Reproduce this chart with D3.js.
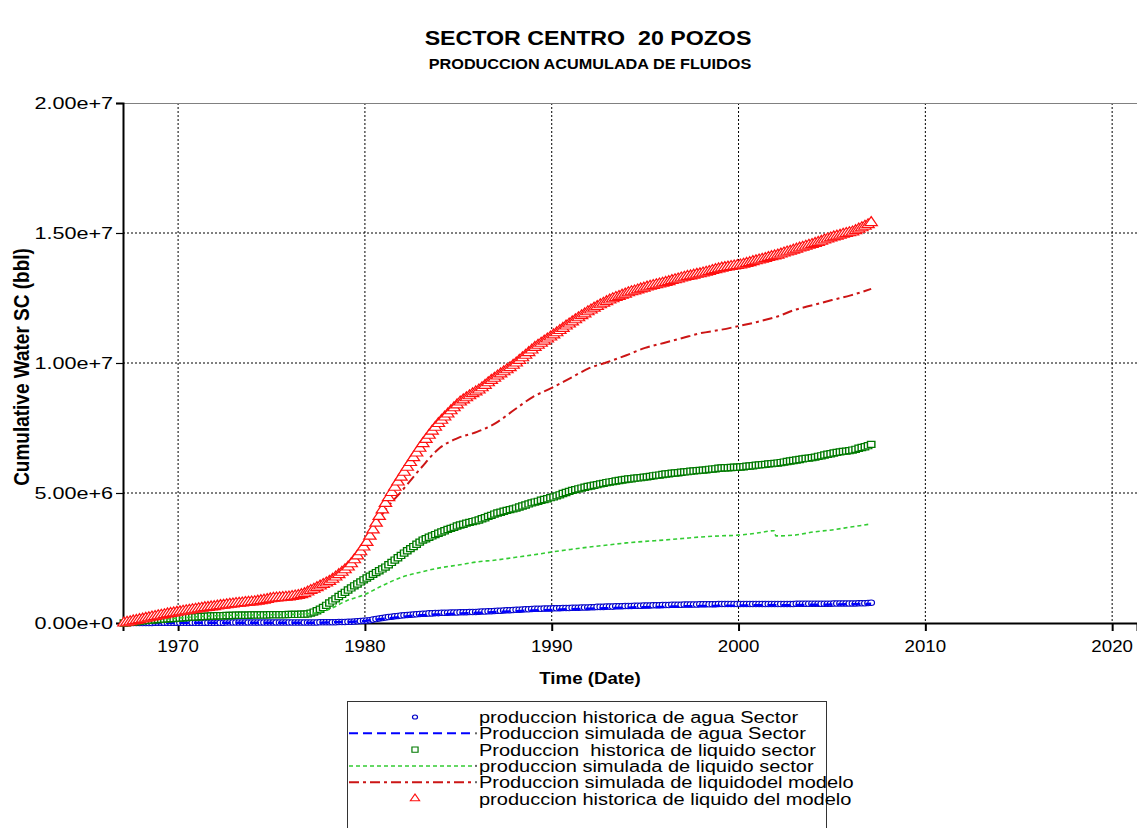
<!DOCTYPE html>
<html><head><meta charset="utf-8">
<script src="https://cdn.jsdelivr.net/npm/d3@7"></script>
<style>html,body{margin:0;padding:0;background:#fff;}svg{display:block;}text{white-space:pre;}</style>
</head><body>
<svg id="chart" width="1137" height="828"></svg>
<script>
// ---------------- DATA (values in millions of bbl) ----------------
const titleText = "SECTOR CENTRO  20 POZOS";
const subtitleText = "PRODUCCION ACUMULADA DE FLUIDOS";
const yTitle = "Cumulative Water SC (bbl)";
const xTitle = "Time (Date)";
const xTickYears = [1970, 1980, 1990, 2000, 2010, 2020];
const yTickValues = [0, 5, 10, 15, 20];

// historic series: samples every 2 months starting 1967.1 (one row per year)
const histStart = 1967.1, histStep = 1 / 6;
const histAgua = [
 0,0,0,0,0,0,
 0,0,0,0,.01,.01,
 .01,.01,.01,.01,.01,.01,
 .01,.01,.01,.01,.01,.01,
 .01,.01,.01,.01,.01,.01,
 .01,.01,.01,.02,.02,.02,
 .02,.02,.02,.02,.02,.02,
 .02,.02,.02,.02,.02,.02,
 .02,.02,.02,.02,.02,.02,
 .02,.02,.02,.02,.02,.02,
 .02,.02,.02,.03,.03,.03,
 .03,.03,.03,.04,.04,.04,
 .05,.05,.06,.07,.08,.09,
 .10,.11,.13,.15,.17,.19,
 .21,.23,.24,.26,.27,.29,
 .30,.31,.32,.33,.34,.35,
 .36,.36,.37,.37,.38,.38,
 .39,.39,.39,.40,.40,.40,
 .41,.41,.41,.42,.42,.42,
 .43,.44,.44,.45,.45,.46,
 .47,.47,.48,.49,.49,.50,
 .51,.51,.52,.53,.53,.54,
 .55,.55,.55,.56,.56,.56,
 .57,.57,.57,.58,.58,.58,
 .59,.59,.59,.60,.60,.60,
 .61,.61,.62,.62,.62,.63,
 .63,.63,.64,.64,.64,.65,
 .65,.65,.66,.66,.66,.67,
 .67,.67,.68,.68,.68,.69,
 .69,.69,.70,.70,.70,.70,
 .71,.71,.71,.71,.71,.72,
 .72,.72,.72,.72,.72,.73,
 .73,.73,.73,.73,.73,.73,
 .73,.73,.73,.73,.73,.73,
 .73,.73,.73,.73,.73,.73,
 .73,.73,.73,.73,.73,.73,
 .74,.74,.74,.74,.74,.74,
 .74,.74,.74,.74,.74,.74,
 .75,.75,.75,.75,.75,.75,
 .75,.75,.76,.76,.76,.77,
 .78];
const histLiqSector = [
 0.00,0.01,0.03,0.04,0.05,0.07,
 0.08,0.09,0.10,0.11,0.12,0.13,
 0.14,0.15,0.16,0.17,0.17,0.18,
 0.19,0.20,0.21,0.22,0.23,0.23,
 0.24,0.25,0.25,0.26,0.27,0.27,
 0.28,0.28,0.28,0.29,0.29,0.29,
 0.30,0.30,0.30,0.30,0.30,0.31,
 0.31,0.31,0.31,0.31,0.31,0.32,
 0.32,0.32,0.32,0.32,0.32,0.33,
 0.33,0.33,0.33,0.34,0.34,0.35,
 0.38,0.42,0.47,0.53,0.60,0.68,
 0.77,0.85,0.93,1.02,1.10,1.18,
 1.27,1.35,1.43,1.50,1.58,1.66,
 1.73,1.80,1.87,1.94,2.01,2.08,
 2.15,2.24,2.33,2.42,2.51,2.60,
 2.69,2.78,2.86,2.94,3.03,3.11,
 3.19,3.24,3.30,3.35,3.40,3.45,
 3.50,3.55,3.60,3.64,3.68,3.73,
 3.77,3.80,3.84,3.87,3.90,3.93,
 3.96,4.01,4.05,4.10,4.14,4.19,
 4.23,4.26,4.30,4.33,4.36,4.39,
 4.42,4.46,4.50,4.54,4.58,4.62,
 4.65,4.68,4.72,4.75,4.78,4.82,
 4.85,4.89,4.93,4.98,5.02,5.06,
 5.10,5.13,5.16,5.19,5.22,5.25,
 5.27,5.30,5.32,5.35,5.37,5.40,
 5.42,5.44,5.46,5.48,5.50,5.52,
 5.54,5.55,5.57,5.58,5.59,5.61,
 5.62,5.64,5.66,5.68,5.69,5.71,
 5.73,5.74,5.76,5.77,5.78,5.80,
 5.81,5.82,5.84,5.85,5.86,5.87,
 5.88,5.89,5.91,5.92,5.93,5.95,
 5.96,5.97,5.97,5.98,5.99,5.99,
 6.00,6.01,6.03,6.04,6.05,6.07,
 6.08,6.09,6.10,6.12,6.13,6.14,
 6.15,6.17,6.19,6.21,6.23,6.25,
 6.27,6.29,6.31,6.33,6.34,6.36,
 6.38,6.41,6.43,6.46,6.49,6.51,
 6.54,6.56,6.58,6.60,6.61,6.63,
 6.65,6.68,6.72,6.75,6.78,6.82,
 6.87];
const histLiqModelo = [
 0.00,0.03,0.05,0.08,0.10,0.13,
 0.15,0.18,0.20,0.23,0.25,0.28,
 0.30,0.32,0.35,0.37,0.39,0.41,
 0.43,0.45,0.47,0.49,0.51,0.53,
 0.55,0.57,0.59,0.60,0.62,0.63,
 0.65,0.67,0.68,0.70,0.72,0.73,
 0.75,0.76,0.77,0.79,0.80,0.81,
 0.82,0.84,0.86,0.88,0.90,0.93,
 0.95,0.96,0.97,0.98,0.99,1.00,
 1.02,1.04,1.06,1.09,1.13,1.19,
 1.25,1.30,1.36,1.42,1.48,1.54,
 1.60,1.68,1.77,1.86,1.95,2.05,
 2.15,2.28,2.43,2.58,2.74,2.92,
 3.10,3.34,3.58,3.84,4.10,4.35,
 4.60,4.82,5.02,5.22,5.42,5.61,
 5.80,5.99,6.17,6.36,6.54,6.72,
 6.90,7.06,7.22,7.38,7.53,7.67,
 7.80,7.92,8.04,8.16,8.28,8.39,
 8.50,8.58,8.66,8.74,8.82,8.89,
 8.96,9.05,9.14,9.24,9.33,9.41,
 9.50,9.58,9.66,9.74,9.82,9.91,
 10.00,10.10,10.20,10.30,10.40,10.50,
 10.60,10.68,10.76,10.84,10.92,11.00,
 11.08,11.16,11.25,11.33,11.42,11.50,
 11.58,11.66,11.74,11.82,11.89,11.97,
 12.04,12.11,12.17,12.24,12.30,12.36,
 12.42,12.47,12.52,12.56,12.61,12.65,
 12.70,12.74,12.77,12.81,12.85,12.88,
 12.92,12.95,12.98,13.01,13.04,13.07,
 13.10,13.13,13.17,13.20,13.23,13.27,
 13.30,13.33,13.35,13.38,13.41,13.43,
 13.46,13.49,13.52,13.56,13.59,13.62,
 13.65,13.67,13.69,13.71,13.73,13.75,
 13.77,13.80,13.83,13.86,13.90,13.93,
 13.96,13.99,14.02,14.06,14.09,14.12,
 14.15,14.19,14.23,14.27,14.30,14.34,
 14.38,14.42,14.45,14.49,14.53,14.56,
 14.60,14.64,14.68,14.73,14.77,14.81,
 14.85,14.88,14.91,14.95,14.98,15.01,
 15.04,15.09,15.15,15.20,15.26,15.32,
 15.40];

// simulated series
const simYears = [1967.1,1968,1969,1970,1971,1972,1973,1974,1975,1976,1977,1978,1979,1980,1981,1982,1983,1984,1985,1986,1987,1988,1989,1990,1991,1992,1993,1994,1995,1996,1997,1998,1999,2000,2001,2001.9,2002,2003,2004,2005,2006,2007.1];
const simAgua = [0,0,0,0.01,0.01,0.01,0.01,0.01,0.01,0.01,0.01,0.02,0.04,0.08,0.16,0.24,0.30,0.33,0.36,0.39,0.42,0.45,0.48,0.50,0.53,0.55,0.57,0.59,0.61,0.62,0.64,0.65,0.66,0.67,0.68,0.69,0.68,0.69,0.70,0.71,0.72,0.74];
const simLiqSector = [0,0.08,0.14,0.19,0.24,0.28,0.30,0.31,0.32,0.33,0.36,0.50,0.85,1.10,1.46,1.77,1.96,2.12,2.23,2.35,2.42,2.52,2.62,2.73,2.83,2.92,3.00,3.08,3.14,3.19,3.25,3.31,3.35,3.38,3.46,3.55,3.35,3.38,3.50,3.58,3.69,3.81];
const simLiqModelo = [0,0.15,0.30,0.43,0.55,0.65,0.75,0.82,0.95,1.02,1.25,1.60,2.15,3.05,4.25,5.10,5.96,6.73,7.12,7.35,7.69,8.20,8.70,9.04,9.42,9.80,10.04,10.30,10.58,10.77,10.96,11.15,11.27,11.42,11.58,11.75,11.77,12.04,12.23,12.42,12.60,12.85];

const legendLabels = [
 "produccion historica de agua Sector",
 "Produccion simulada de agua Sector",
 "Produccion  historica de liquido sector",
 "produccion simulada de liquido sector",
 "Produccion simulada de liquidodel modelo",
 "produccion historica de liquido del modelo"
];

// ---------------- DRAWING ----------------
const svg = d3.select("#chart");
const FONT = "'Liberation Sans', Arial, Helvetica, sans-serif";
const L = 123, R = 1137, T = 103, B = 623;

const x = d3.scaleLinear().domain([1967.05, 2021.33]).range([L, R]);
const y = d3.scaleLinear().domain([0, 20]).range([B, T]);

function stext(g, px, py, str, size, weight, anchor, sx) {
  return g.append("text")
    .attr("transform", `translate(${px},${py}) scale(${sx},1)`)
    .attr("text-anchor", anchor || "start")
    .style("font-family", FONT)
    .style("font-size", size + "px")
    .style("font-weight", weight || "normal")
    .attr("fill", "#000")
    .text(str);
}

svg.append("rect").attr("width", 1137).attr("height", 828).attr("fill", "#fff");

// titles
stext(svg, 588, 45, titleText, 20, "bold", "middle", 1.16);
stext(svg, 590, 69, subtitleText, 14, "bold", "middle", 1.16);

// grid
const grid = svg.append("g");
grid.selectAll("line.v").data(xTickYears).join("line")
  .attr("x1", d => x(d)).attr("x2", d => x(d)).attr("y1", T).attr("y2", B)
  .attr("stroke", "#000").attr("stroke-width", 1).attr("stroke-dasharray", "2,2");
grid.selectAll("line.h").data(yTickValues.filter(v => v > 0 && v < 20)).join("line")
  .attr("x1", L).attr("x2", R).attr("y1", d => y(d)).attr("y2", d => y(d))
  .attr("stroke", "#000").attr("stroke-width", 1).attr("stroke-dasharray", "2,2");

// top border
svg.append("line").attr("x1", L).attr("x2", R).attr("y1", T + 0.5).attr("y2", T + 0.5)
  .attr("stroke", "#808080").attr("stroke-width", 1);

// axes via d3 axes
const fmt = d3.format(".2e");
const yAxis = d3.axisLeft(y).tickValues(yTickValues).tickSize(7).tickFormat(d => fmt(d * 1e6));
const gy = svg.append("g").attr("transform", `translate(${L},0)`).call(yAxis);
gy.select(".domain").attr("stroke", "#000").attr("stroke-width", 2);
gy.selectAll(".tick line").attr("stroke", "#000").attr("stroke-width", 1.2);
gy.selectAll(".tick text").remove();
yTickValues.forEach(v => stext(svg, L - 10, y(v) + 6, fmt(v * 1e6), 17, "normal", "end", 1.27));

const xAxis = d3.axisBottom(x).tickValues(xTickYears).tickSize(8).tickFormat(d3.format("d"));
const gx = svg.append("g").attr("transform", `translate(0,${B})`).call(xAxis);
gx.select(".domain").attr("stroke", "#000").attr("stroke-width", 2);
gx.selectAll(".tick line").attr("stroke", "#000").attr("stroke-width", 2);
gx.selectAll(".tick text").remove();
xTickYears.forEach(v => stext(svg, x(v), 652, String(v), 17, "normal", "middle", 1.1));

// axis titles
stext(svg, 590, 684, xTitle, 17, "bold", "middle", 1.1);
svg.append("text")
  .attr("transform", `translate(29,${367}) scale(1.2,1) rotate(-90)`)
  .attr("text-anchor", "middle")
  .style("font-family", FONT).style("font-size", "19px").style("font-weight", "bold")
  .text(yTitle);

// series
const plot = svg.append("g");
const histT = i => histStart + i * histStep;

const styles = {
  agua:   {c: "#0000c8", line: "#0000ff"},
  liqS:   {c: "#007a00", line: "#33cc33"},
  liqM:   {c: "#ff1010", line: "#cc1515"}
};

function drawHist(vals, symbol, size, color, sw) {
  const sym = d3.symbol().type(symbol).size(size);
  plot.append("g").selectAll("path").data(vals).join("path")
    .attr("transform", (d, i) => `translate(${x(histT(i))},${y(d)}) scale(1.2,1)`)
    .attr("d", sym)
    .attr("fill", "#fff").attr("stroke", color).attr("stroke-width", sw);
}
function drawSim(vals, color, dash, sw) {
  const line = d3.line().x((d, i) => x(simYears[i])).y(d => y(d)).curve(d3.curveMonotoneX);
  plot.append("path").datum(vals).attr("d", line)
    .attr("fill", "none").attr("stroke", color).attr("stroke-width", sw)
    .attr("stroke-dasharray", dash);
}

drawHist(histAgua, d3.symbolCircle, 24, styles.agua.c, 1);
drawSim(simAgua, styles.agua.line, "9,5", 2.5);
drawHist(histLiqSector, d3.symbolSquare, 38, styles.liqS.c, 1.2);
drawSim(simLiqSector, styles.liqS.line, "4,3", 1.6);
drawSim(simLiqModelo, styles.liqM.line, "10,4,3,4", 2);
drawHist(histLiqModelo, d3.symbolTriangle, 46, styles.liqM.c, 1.1);

// legend
const lg = svg.append("g");
lg.append("rect").attr("x", 347.5).attr("y", 701.5).attr("width", 479).attr("height", 140)
  .attr("fill", "#fff").attr("stroke", "#333").attr("stroke-width", 1);
const rowY = d3.range(6).map(i => 717 + i * 16.3);
const legendKinds = [
  {t: "sym", s: d3.symbolCircle, size: 14, c: styles.agua.c},
  {t: "line", c: styles.agua.line, dash: "9,5", w: 2},
  {t: "sym", s: d3.symbolSquare, size: 26, c: styles.liqS.c},
  {t: "line", c: styles.liqS.line, dash: "4,3", w: 1.5},
  {t: "line", c: styles.liqM.line, dash: "10,4,3,4", w: 2},
  {t: "sym", s: d3.symbolTriangle, size: 26, c: styles.liqM.c}
];
legendKinds.forEach((k, i) => {
  const yy = rowY[i];
  if (k.t === "sym") {
    lg.append("path").attr("transform", `translate(415,${yy}) scale(1.2,1)`)
      .attr("d", d3.symbol().type(k.s).size(k.size)())
      .attr("fill", "#fff").attr("stroke", k.c).attr("stroke-width", 1);
  } else {
    lg.append("line").attr("x1", 349).attr("x2", 472).attr("y1", yy).attr("y2", yy)
      .attr("stroke", k.c).attr("stroke-width", k.w).attr("stroke-dasharray", k.dash);
    lg.append("rect").attr("x", 475).attr("y", yy - 1).attr("width", 2).attr("height", 2).attr("fill", "#666");
  }
  stext(lg, 479, yy + 6, legendLabels[i], 16, "normal", "start", 1.25);
});
</script>
</body></html>
